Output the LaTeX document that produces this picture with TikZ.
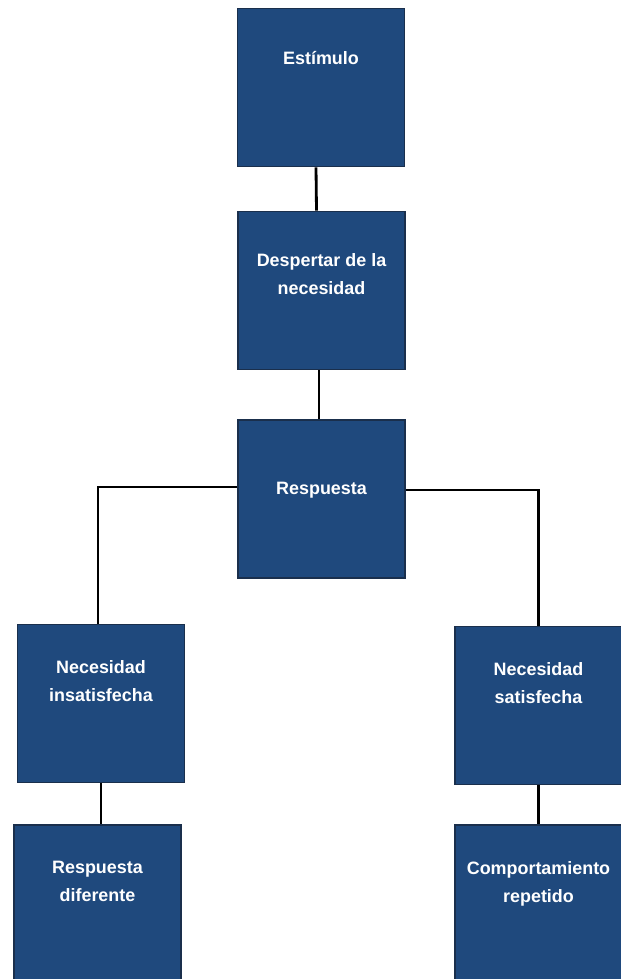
\documentclass[tikz,border=0pt]{standalone}
\usepackage{fontspec}
\setmainfont{Liberation Sans}
\usepackage{tikz}
\usetikzlibrary{positioning, calc}
\usepackage{xcolor}
\definecolor{stageblue}{HTML}{1F497D}
\definecolor{stageedge}{HTML}{1A2F4C}

\tikzset{
  stage/.style={draw=stageedge, line width=1.1pt, fill=stageblue,
    minimum width=3.34cm, minimum height=3.16cm, inner sep=0pt},
  stagetext/.style={anchor=north, inner sep=0pt, text=white, align=center,
    font=\bfseries\fontsize{10.2}{15.9}\selectfont},
  link/.style={line width=1.6pt, black}
}

\begin{document}
\begin{tikzpicture}[x=0.02cm, y=-0.02cm]
  \useasboundingbox (0,0) rectangle (621,979);
  % Boxes (centres in pixels of the reference)
  \node[stage] (estimulo)     at (321, 87.5)  {};
  \node[stage] (despertar)    at (321.5, 290.5) {};
  \node[stage] (respuesta)    at (321.5, 499) {};
  \node[stage] (insatisfecha) at (101, 703.5) {};
  \node[stage] (satisfecha)   at (538.5, 705.5) {};
  \node[stage] (diferente)    at (97.5, 904)  {};
  \node[stage] (repetido)     at (538.5, 904) {};
  % Texts, near the top of each box
  \node[stagetext] (estimuloTxt)     at ($(estimulo.north)+(0,43)$) {Estímulo};
  \node[stagetext] (despertarTxt)    at ($(despertar.north)+(0,43)$) {Despertar de la\\necesidad};
  \node[stagetext] (respuestaTxt)    at ($(respuesta.north)+(0,63)$) {Respuesta};
  \node[stagetext] (insatisfechaTxt) at ($(insatisfecha.north)+(0,37)$) {Necesidad\\insatisfecha};
  \node[stagetext] (satisfechaTxt)   at ($(satisfecha.north)+(0,37)$) {Necesidad\\satisfecha};
  \node[stagetext] (diferenteTxt)    at ($(diferente.north)+(0,37)$) {Respuesta\\diferente};
  \node[stagetext] (repetidoTxt)     at ($(repetido.north)+(0,37)$) {Comportamiento\\repetido};
  % Connectors
  \draw[link] ([xshift=-0.1cm]estimulo.south) -- ([xshift=-0.1cm]despertar.north);
  \draw[link] ([xshift=-0.05cm]despertar.south) -- ([xshift=-0.05cm]respuesta.north);
  \draw[link] ([yshift=0.24cm]respuesta.west) -| ([xshift=-0.06cm]insatisfecha.north);
  \draw[link] ([yshift=0.18cm]respuesta.east) -| (satisfecha.north);
  \draw[link] (insatisfecha.south) -- (insatisfecha.south |- diferente.north);
  \draw[link] (satisfecha.south) -- (repetido.north);
\end{tikzpicture}
\end{document}
